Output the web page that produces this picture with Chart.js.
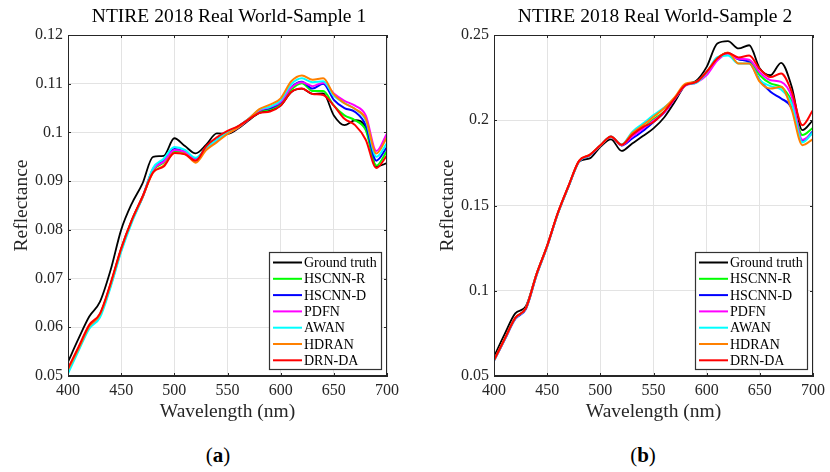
<!DOCTYPE html>
<html>
<head>
<meta charset="utf-8">
<script src="https://cdn.jsdelivr.net/npm/chart.js@4.4.0/dist/chart.umd.min.js"></script>
<style>
  body { margin: 0; background: #fff; font-family: "Liberation Serif", serif; }
  #wrap { position: relative; width: 830px; height: 472px; }
  .panel { position: absolute; top: 0; width: 404px; height: 440px; }
  .ttl { position: absolute; top: 5px; width: 322px; text-align: center; font-size: 19.5px; color: #000; white-space: nowrap; }
  .cap { position: absolute; top: 443px; width: 60px; text-align: center; font-size: 21px; color: #000; }
  .cap b { font-weight: bold; }
</style>
</head>
<body>
<div id="wrap">
  <div class="panel" style="left:0"><canvas id="chartA" width="404" height="440"></canvas></div>
  <div class="panel" style="left:426px"><canvas id="chartB" width="404" height="440"></canvas></div>
  <div class="ttl" style="left:68px">NTIRE 2018 Real World-Sample 1</div>
  <div class="ttl" style="left:494px">NTIRE 2018 Real World-Sample 2</div>
  <div class="cap" style="left:188px">(<b>a</b>)</div>
  <div class="cap" style="left:613px">(<b>b</b>)</div>
</div>
<script>
// wavelengths, nm
const wavelengths = [400, 410, 420, 430, 440, 450, 460, 470, 480, 490, 500, 510, 520, 530, 540, 550,
  560, 570, 580, 590, 600, 610, 620, 630, 640, 650, 660, 670, 680, 690, 700];

const methods = ['Ground truth', 'HSCNN-R', 'HSCNN-D', 'PDFN', 'AWAN', 'HDRAN', 'DRN-DA'];
const colors = ['#000000', '#00ff00', '#0000ff', '#ff00ff', '#00ffff', '#ff8000', '#ff0000'];

// Sample 1
const gtA     = [0.0529, 0.0577, 0.0622, 0.0652, 0.0717, 0.0800, 0.0854, 0.0895, 0.0950, 0.0952, 0.0988, 0.0972, 0.0957, 0.0975, 0.0998, 0.0997,
  0.1008, 0.1025, 0.1040, 0.1045, 0.1055, 0.1083, 0.1090, 0.1079, 0.1080, 0.1035, 0.1015, 0.1025, 0.1010, 0.0930, 0.0937];
const hscnnRA = [0.0512, 0.0556, 0.0601, 0.0625, 0.0686, 0.0760, 0.0819, 0.0866, 0.0922, 0.0938, 0.0962, 0.0958, 0.0943, 0.0968, 0.0985, 0.1000,
  0.1012, 0.1027, 0.1043, 0.1048, 0.1058, 0.1088, 0.1101, 0.1085, 0.1085, 0.1055, 0.1035, 0.1025, 0.1005, 0.0932, 0.0962];
const hscnnDA = [0.0512, 0.0557, 0.0601, 0.0625, 0.0687, 0.0760, 0.0819, 0.0867, 0.0925, 0.0942, 0.0966, 0.0960, 0.0946, 0.0968, 0.0985, 0.1000,
  0.1012, 0.1028, 0.1045, 0.1050, 0.1062, 0.1093, 0.1104, 0.1090, 0.1100, 0.1067, 0.1050, 0.1042, 0.1015, 0.0942, 0.0970];
const pdfnA   = [0.0510, 0.0555, 0.0600, 0.0624, 0.0685, 0.0758, 0.0818, 0.0866, 0.0924, 0.0940, 0.0964, 0.0960, 0.0944, 0.0966, 0.0983, 0.0998,
  0.1010, 0.1027, 0.1045, 0.1052, 0.1063, 0.1092, 0.1103, 0.1095, 0.1102, 0.1080, 0.1065, 0.1055, 0.1035, 0.0962, 0.0998];
const awanA   = [0.0505, 0.0552, 0.0597, 0.0620, 0.0682, 0.0755, 0.0815, 0.0866, 0.0927, 0.0946, 0.0970, 0.0964, 0.0948, 0.0969, 0.0985, 0.1000,
  0.1012, 0.1028, 0.1047, 0.1053, 0.1066, 0.1099, 0.1111, 0.1103, 0.1105, 0.1075, 0.1060, 0.1048, 0.1025, 0.0950, 0.0978];
const hdranA  = [0.0513, 0.0557, 0.0602, 0.0626, 0.0688, 0.0761, 0.0820, 0.0867, 0.0918, 0.0932, 0.0958, 0.0956, 0.0938, 0.0964, 0.0980, 0.0997,
  0.1010, 0.1028, 0.1048, 0.1057, 0.1070, 0.1105, 0.1117, 0.1108, 0.1111, 0.1078, 0.1060, 0.1048, 0.1028, 0.0957, 0.0990];
const drnA    = [0.0516, 0.0560, 0.0605, 0.0628, 0.0690, 0.0762, 0.0820, 0.0868, 0.0918, 0.0930, 0.0958, 0.0955, 0.0942, 0.0972, 0.0990, 0.1003,
  0.1013, 0.1027, 0.1040, 0.1043, 0.1055, 0.1083, 0.1090, 0.1079, 0.1077, 0.1055, 0.1028, 0.1015, 0.0985, 0.0927, 0.0953];

// Sample 2
const gtB     = [0.0613, 0.0745, 0.0867, 0.0910, 0.1100, 0.1265, 0.1454, 0.1610, 0.1756, 0.1776, 0.1844, 0.1888, 0.1820, 0.1864, 0.1907, 0.1952,
  0.2016, 0.2108, 0.2206, 0.2231, 0.2313, 0.2450, 0.2464, 0.2421, 0.2440, 0.2303, 0.2264, 0.2337, 0.2196, 0.1942, 0.2001];
const hscnnRB = [0.0592, 0.0716, 0.0840, 0.0898, 0.1095, 0.1262, 0.1454, 0.1612, 0.1760, 0.1795, 0.1850, 0.1903, 0.1854, 0.1910, 0.1955, 0.2005,
  0.2050, 0.2128, 0.2206, 0.2223, 0.2284, 0.2362, 0.2395, 0.2357, 0.2350, 0.2264, 0.2216, 0.2196, 0.2110, 0.1913, 0.1956];
const hscnnDB = [0.0590, 0.0712, 0.0834, 0.0893, 0.1090, 0.1260, 0.1452, 0.1610, 0.1758, 0.1793, 0.1850, 0.1902, 0.1852, 0.1893, 0.1937, 0.1990,
  0.2045, 0.2125, 0.2206, 0.2223, 0.2284, 0.2362, 0.2395, 0.2357, 0.2340, 0.2235, 0.2167, 0.2128, 0.2073, 0.1880, 0.1936];
const pdfnB   = [0.0591, 0.0715, 0.0838, 0.0897, 0.1095, 0.1262, 0.1454, 0.1612, 0.1760, 0.1795, 0.1850, 0.1903, 0.1854, 0.1905, 0.1950, 0.1998,
  0.2045, 0.2125, 0.2203, 0.2220, 0.2265, 0.2350, 0.2390, 0.2360, 0.2355, 0.2280, 0.2235, 0.2225, 0.2138, 0.1885, 0.1925];
const awanB   = [0.0590, 0.0715, 0.0838, 0.0897, 0.1093, 0.1260, 0.1452, 0.1610, 0.1758, 0.1795, 0.1852, 0.1905, 0.1858, 0.1932, 0.1980, 0.2030,
  0.2075, 0.2130, 0.2206, 0.2220, 0.2280, 0.2370, 0.2380, 0.2333, 0.2333, 0.2235, 0.2200, 0.2180, 0.2095, 0.1870, 0.1930];
const hdranB  = [0.0592, 0.0717, 0.0840, 0.0898, 0.1096, 0.1263, 0.1455, 0.1613, 0.1762, 0.1797, 0.1852, 0.1903, 0.1856, 0.1925, 0.1970, 0.2020,
  0.2070, 0.2135, 0.2215, 0.2225, 0.2285, 0.2362, 0.2398, 0.2333, 0.2333, 0.2225, 0.2186, 0.2196, 0.2060, 0.1854, 0.1890];
const drnB    = [0.0593, 0.0718, 0.0841, 0.0899, 0.1097, 0.1264, 0.1456, 0.1614, 0.1762, 0.1797, 0.1853, 0.1905, 0.1856, 0.1915, 0.1960, 0.1990,
  0.2050, 0.2128, 0.2206, 0.2223, 0.2284, 0.2362, 0.2395, 0.2368, 0.2380, 0.2300, 0.2253, 0.2274, 0.2167, 0.1971, 0.2060];

const seriesA = [gtA, hscnnRA, hscnnDA, pdfnA, awanA, hdranA, drnA];
const seriesB = [gtB, hscnnRB, hscnnDB, pdfnB, awanB, hdranB, drnB];

const ticksA = [0.05, 0.06, 0.07, 0.08, 0.09, 0.1, 0.11, 0.12];
const ticksB = [0.05, 0.1, 0.15, 0.2, 0.25];
const xTicks = [400, 450, 500, 550, 600, 650, 700];

const axisColor = '#262626';
const serif = '"Liberation Serif", "Times New Roman", serif';

// box round the plot, MATLAB style inner ticks, and the legend in the lower right corner
const framePlugin = {
  id: 'frame',
  afterDatasetsDraw(chart) {
    const { ctx, chartArea: a, scales } = chart;
    ctx.save();
    ctx.strokeStyle = axisColor;
    ctx.lineWidth = 1;
    ctx.beginPath();
    scales.x.ticks.forEach(t => {
      const px = Math.round(scales.x.getPixelForValue(t.value)) + 0.5;
      ctx.moveTo(px, a.bottom); ctx.lineTo(px, a.bottom - 3);
      ctx.moveTo(px, a.top); ctx.lineTo(px, a.top + 3);
    });
    scales.y.ticks.forEach(t => {
      const py = Math.round(scales.y.getPixelForValue(t.value)) + 0.5;
      ctx.moveTo(a.left, py); ctx.lineTo(a.left + 3, py);
      ctx.moveTo(a.right, py); ctx.lineTo(a.right - 3, py);
    });
    ctx.stroke();
    ctx.strokeRect(Math.round(a.left) + 0.5, Math.round(a.top) + 0.5, Math.round(a.width) - 1, Math.round(a.height) - 1);

    const w = 112, h = 117;
    const lx = Math.round(a.right) - 6 - w, ly = Math.round(a.bottom) - 7 - h;
    ctx.fillStyle = '#fff';
    ctx.fillRect(lx, ly, w, h);
    ctx.strokeStyle = '#333';
    ctx.lineWidth = 1.2;
    ctx.strokeRect(lx + 0.5, ly + 0.5, w, h);
    ctx.font = '14px ' + serif;
    ctx.textBaseline = 'middle';
    ctx.textAlign = 'left';
    chart.data.datasets.forEach((ds, i) => {
      const yy = ly + 10.5 + i * 16.3;
      ctx.strokeStyle = ds.borderColor;
      ctx.lineWidth = 2;
      ctx.beginPath();
      ctx.moveTo(lx + 4, yy); ctx.lineTo(lx + 33, yy);
      ctx.stroke();
      ctx.fillStyle = '#000';
      ctx.fillText(ds.label, lx + 35, yy + 1);
    });
    ctx.restore();
  }
};

const fmt = v => String(parseFloat(Number(v).toFixed(3)));

function makeChart(id, series, yMin, yMax, yTicks) {
  const datasets = series.map((vals, i) => ({
    label: methods[i],
    data: wavelengths.map((w, k) => ({ x: w, y: vals[k] })),
    borderColor: colors[i],
    backgroundColor: colors[i],
    borderWidth: i === 0 ? 1.8 : 2,
    pointRadius: 0,
    cubicInterpolationMode: 'monotone',
    order: series.length - i
  }));
  return new Chart(document.getElementById(id), {
    type: 'line',
    data: { datasets },
    options: {
      responsive: false,
      animation: false,
      layout: { padding: { top: 35, right: 14, left: 0, bottom: 0 } },
      plugins: { legend: { display: false }, tooltip: { enabled: false } },
      scales: {
        x: {
          type: 'linear',
          min: 400, max: 700,
          afterBuildTicks: s => { s.ticks = xTicks.map(v => ({ value: v })); },
          afterFit: s => { s.height = 64; },
          grid: { color: '#e3e3e3', drawTicks: false },
          border: { color: axisColor },
          ticks: { color: axisColor, padding: 5, font: { family: serif, size: 16 }, maxRotation: 0 },
          title: { display: true, text: 'Wavelength (nm)', color: axisColor, font: { family: serif, size: 19.5 }, padding: { bottom: 16 } }
        },
        y: {
          min: yMin, max: yMax,
          afterBuildTicks: s => { s.ticks = yTicks.map(v => ({ value: v })); },
          afterFit: s => { s.width = 68; },
          grid: { color: '#e3e3e3', drawTicks: false },
          border: { color: axisColor },
          ticks: { color: axisColor, padding: 5, font: { family: serif, size: 16 }, callback: v => fmt(v) },
          title: { display: true, text: 'Reflectance', color: axisColor, font: { family: serif, size: 19.5 }, padding: { top: 10 } }
        }
      }
    },
    plugins: [framePlugin]
  });
}

makeChart('chartA', seriesA, 0.05, 0.12, ticksA);
makeChart('chartB', seriesB, 0.05, 0.25, ticksB);
</script>
</body>
</html>
